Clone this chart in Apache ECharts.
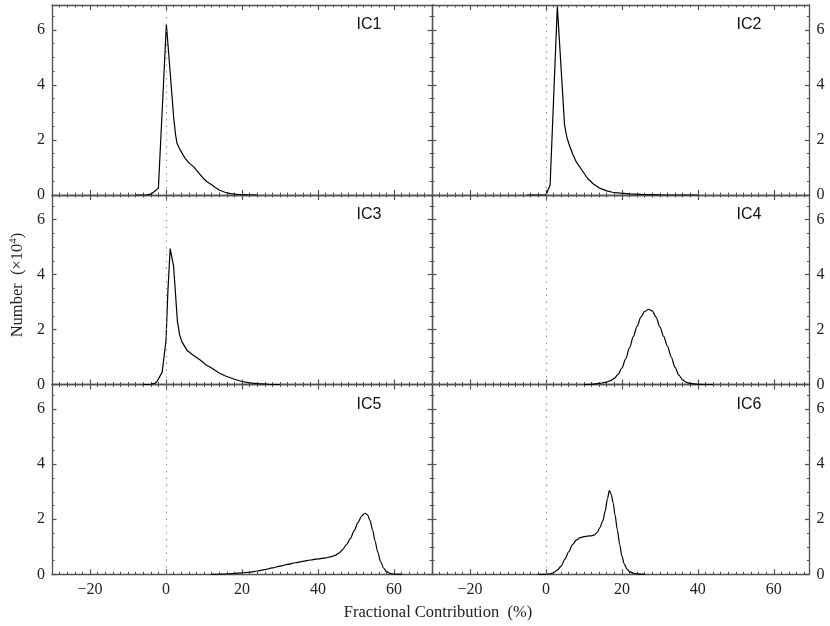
<!DOCTYPE html>
<html><head><meta charset="utf-8">
<script src="https://cdn.jsdelivr.net/npm/echarts@6/dist/echarts.min.js"></script>
<style>html,body{margin:0;padding:0;background:#fff}#c{width:830px;height:626px}</style>
</head><body><div id="c"></div>
<script>
// ---- data ----
const panelNames = ['IC1', 'IC2', 'IC3', 'IC4', 'IC5', 'IC6'];
const xTickValues = [-20, 0, 20, 40, 60];
const yTickValues = [0, 2, 4, 6];
const xAxisTitle = 'Fractional Contribution  (%)';

const ic1 = [[-8,0],[-5,0.005],[-4,0.03],[-3.3,0.1],[-2,0.25],[0.1,6.2],[2,2.85],[2.5,2.2],[2.9,1.88],[3.5,1.7],[4.2,1.52],[5.2,1.3],[6.2,1.15],[7.3,1.02],[8.6,0.8],[10,0.58],[10.8,0.48],[12.1,0.36],[13,0.27],[14,0.18],[15.5,0.1],[17,0.05],[18.2,0.03],[20,0.01],[24,0]];
const ic2 = [[-5,0],[0,0],[0.3,0.05],[1.1,0.36],[3,6.85],[4.9,2.55],[5.5,2.1],[6,1.88],[7,1.5],[8,1.2],[9.5,0.9],[11,0.6],[12.5,0.4],[14.3,0.24],[16,0.15],[17.5,0.1],[19.6,0.07],[22,0.04],[25,0.02],[30,0.005],[40,0]];
const ic3 = [[-6,0],[-4,0.01],[-3,0.04],[-2.4,0.1],[-1,0.45],[0,1.6],[0.5,3.4],[1.1,4.95],[2,4.3],[3,2.3],[3.6,1.8],[4.2,1.55],[5.5,1.25],[7,1.08],[9,0.89],[10.5,0.72],[12,0.6],[14,0.42],[15.5,0.32],[18,0.19],[20,0.11],[22,0.06],[24,0.03],[27,0.01],[30,0]];
const ic4 = [[10,0],[12,0.01],[14,0.04],[16,0.09],[17,0.14],[18,0.22],[19,0.37],[20,0.6],[21,0.93],[22,1.33],[23,1.74],[24,2.12],[25,2.45],[26,2.66],[27,2.74],[28,2.68],[29,2.45],[30,2.1],[31,1.75],[32,1.4],[33,1.0],[34,0.62],[35,0.34],[36,0.17],[37,0.08],[38,0.04],[40,0.01],[44,0]];
const ic5 = [[12,0],[15,0.01],[18,0.03],[20,0.05],[22,0.08],[24,0.12],[26,0.17],[28,0.23],[30,0.3],[32,0.36],[34,0.42],[36,0.47],[38,0.52],[40,0.56],[42,0.6],[43.5,0.64],[44.5,0.69],[45.5,0.77],[46.5,0.9],[47.5,1.08],[48.5,1.3],[49.5,1.58],[50.5,1.88],[51.5,2.12],[52.3,2.22],[53,2.17],[53.7,1.95],[54.4,1.6],[55,1.22],[55.7,0.82],[56.5,0.45],[57.3,0.22],[58,0.1],[59,0.03],[60,0.01],[62,0]];
const ic6 = [[-2,0],[0,0],[1,0.02],[2,0.06],[3,0.15],[4,0.3],[5,0.55],[6,0.82],[7,1.08],[8,1.24],[9,1.33],[10,1.37],[11,1.39],[12,1.4],[12.8,1.43],[13.5,1.52],[14.2,1.7],[15,1.95],[15.6,2.3],[16.2,2.75],[16.7,3.04],[17.2,2.9],[17.7,2.6],[18.2,2.15],[18.8,1.62],[19.4,1.1],[20,0.66],[20.6,0.38],[21.3,0.2],[22,0.1],[23,0.04],[24,0.015],[26,0]];
const panelData = [ic1, ic2, ic3, ic4, ic5, ic6];
const smoothFlags = [false, false, false, 0.3, 0.3, 0.3];

// ---- layout / style ----
const colLeft = [52, 432];
const colWidth = [380, 377.5];
const colXMax = [70, 69.4];
const rowTop = [5, 195, 384.5];
const rowHeight = [190, 189.5, 189.8];
const yMax = 6.9;
const frameColor = '#505050';
const textColor = '#222';
const serif = 'Liberation Serif, Times New Roman, serif';
const sans = 'Liberation Sans, Arial, sans-serif';
const minus = v => (v < 0 ? '\u2212' + Math.abs(v) : String(v));

const grids = [], xAxes = [], yAxes = [], series = [], graphics = [];

panelData.forEach((data, i) => {
  const col = i % 2, row = Math.floor(i / 2);
  grids.push({ left: colLeft[col], top: rowTop[row], width: colWidth[col], height: rowHeight[row], outerBoundsMode: 'none' });
  const xmax = colXMax[col];
  const xBase = { type: 'value', gridIndex: i, min: -30, max: xmax, splitLine: { show: false } };
  ['bottom', 'top'].forEach(pos => {
    xAxes.push(Object.assign({}, xBase, {
      position: pos, interval: 2,
      axisLine: { show: true, onZero: false, lineStyle: { color: frameColor, width: 1.3 } },
      axisTick: { show: true, inside: true, length: 2.5, lineStyle: { color: frameColor, width: 1 } },
      axisLabel: { show: false }
    }));
    xAxes.push(Object.assign({}, xBase, {
      position: pos, interval: 10,
      axisLine: { show: false, onZero: false },
      axisTick: { show: true, inside: true, length: 5, customValues: xTickValues, lineStyle: { color: frameColor, width: 1.2 } },
      axisLabel: { show: pos === 'bottom' && row === 2, customValues: xTickValues, formatter: minus,
        color: textColor, fontFamily: serif, fontSize: 16, margin: 7 }
    }));
  });
  const yBase = { type: 'value', gridIndex: i, min: 0, max: yMax, splitLine: { show: false } };
  ['left', 'right'].forEach(pos => {
    yAxes.push(Object.assign({}, yBase, {
      position: pos, interval: 0.5,
      axisLine: { show: true, onZero: false, lineStyle: { color: frameColor, width: 1.3 } },
      axisTick: { show: true, inside: true, length: 2.5, lineStyle: { color: frameColor, width: 1 } },
      axisLabel: { show: false }
    }));
    yAxes.push(Object.assign({}, yBase, {
      position: pos, interval: 2,
      axisLine: { show: false, onZero: false },
      axisTick: { show: true, inside: true, length: 4.5, customValues: yTickValues, lineStyle: { color: frameColor, width: 1.2 } },
      axisLabel: { show: (pos === 'left' && col === 0) || (pos === 'right' && col === 1), customValues: yTickValues,
        color: textColor, fontFamily: serif, fontSize: 16, margin: 7 }
    }));
  });
  series.push({
    type: 'line', name: panelNames[i], data: data,
    xAxisIndex: i * 4 + 1, yAxisIndex: i * 4 + 1,
    showSymbol: false, smooth: smoothFlags[i], smoothMonotone: 'x',
    lineStyle: { color: '#000', width: 1.2 },
    silent: true, z: 3,
    markLine: {
      silent: true, symbol: ['none', 'none'], label: { show: false },
      lineStyle: { type: [1.3, 5.5], color: '#8a8a8a', width: 1.1 },
      data: [{ xAxis: 0 }]
    }
  });
  graphics.push({
    type: 'text',
    x: colLeft[col] + 317,
    y: rowTop[row] + 20,
    style: { text: panelNames[i], fontFamily: sans, fontSize: 16, fill: '#111', align: 'center', verticalAlign: 'middle' }
  });
});

graphics.push({
  type: 'text', x: 438, y: 613,
  style: { text: xAxisTitle, fontFamily: serif, fontSize: 16.5, fill: textColor, align: 'center', verticalAlign: 'middle' }
});
graphics.push({
  type: 'text', x: 18, y: 285, rotation: Math.PI / 2,
  style: {
    text: '{a|Number  (×10}{s|4}{a|)}',
    align: 'center', verticalAlign: 'middle',
    rich: {
      a: { fontFamily: serif, fontSize: 16.5, fill: textColor },
      s: { fontFamily: serif, fontSize: 11, fill: textColor, padding: [0, 0, 9, 0] }
    }
  }
});

const chart = echarts.init(document.getElementById('c'), null, { renderer: 'canvas' });
chart.setOption({
  animation: false,
  backgroundColor: '#fff',
  grid: grids, xAxis: xAxes, yAxis: yAxes, series: series,
  graphic: { elements: graphics }
});
</script></body></html>
